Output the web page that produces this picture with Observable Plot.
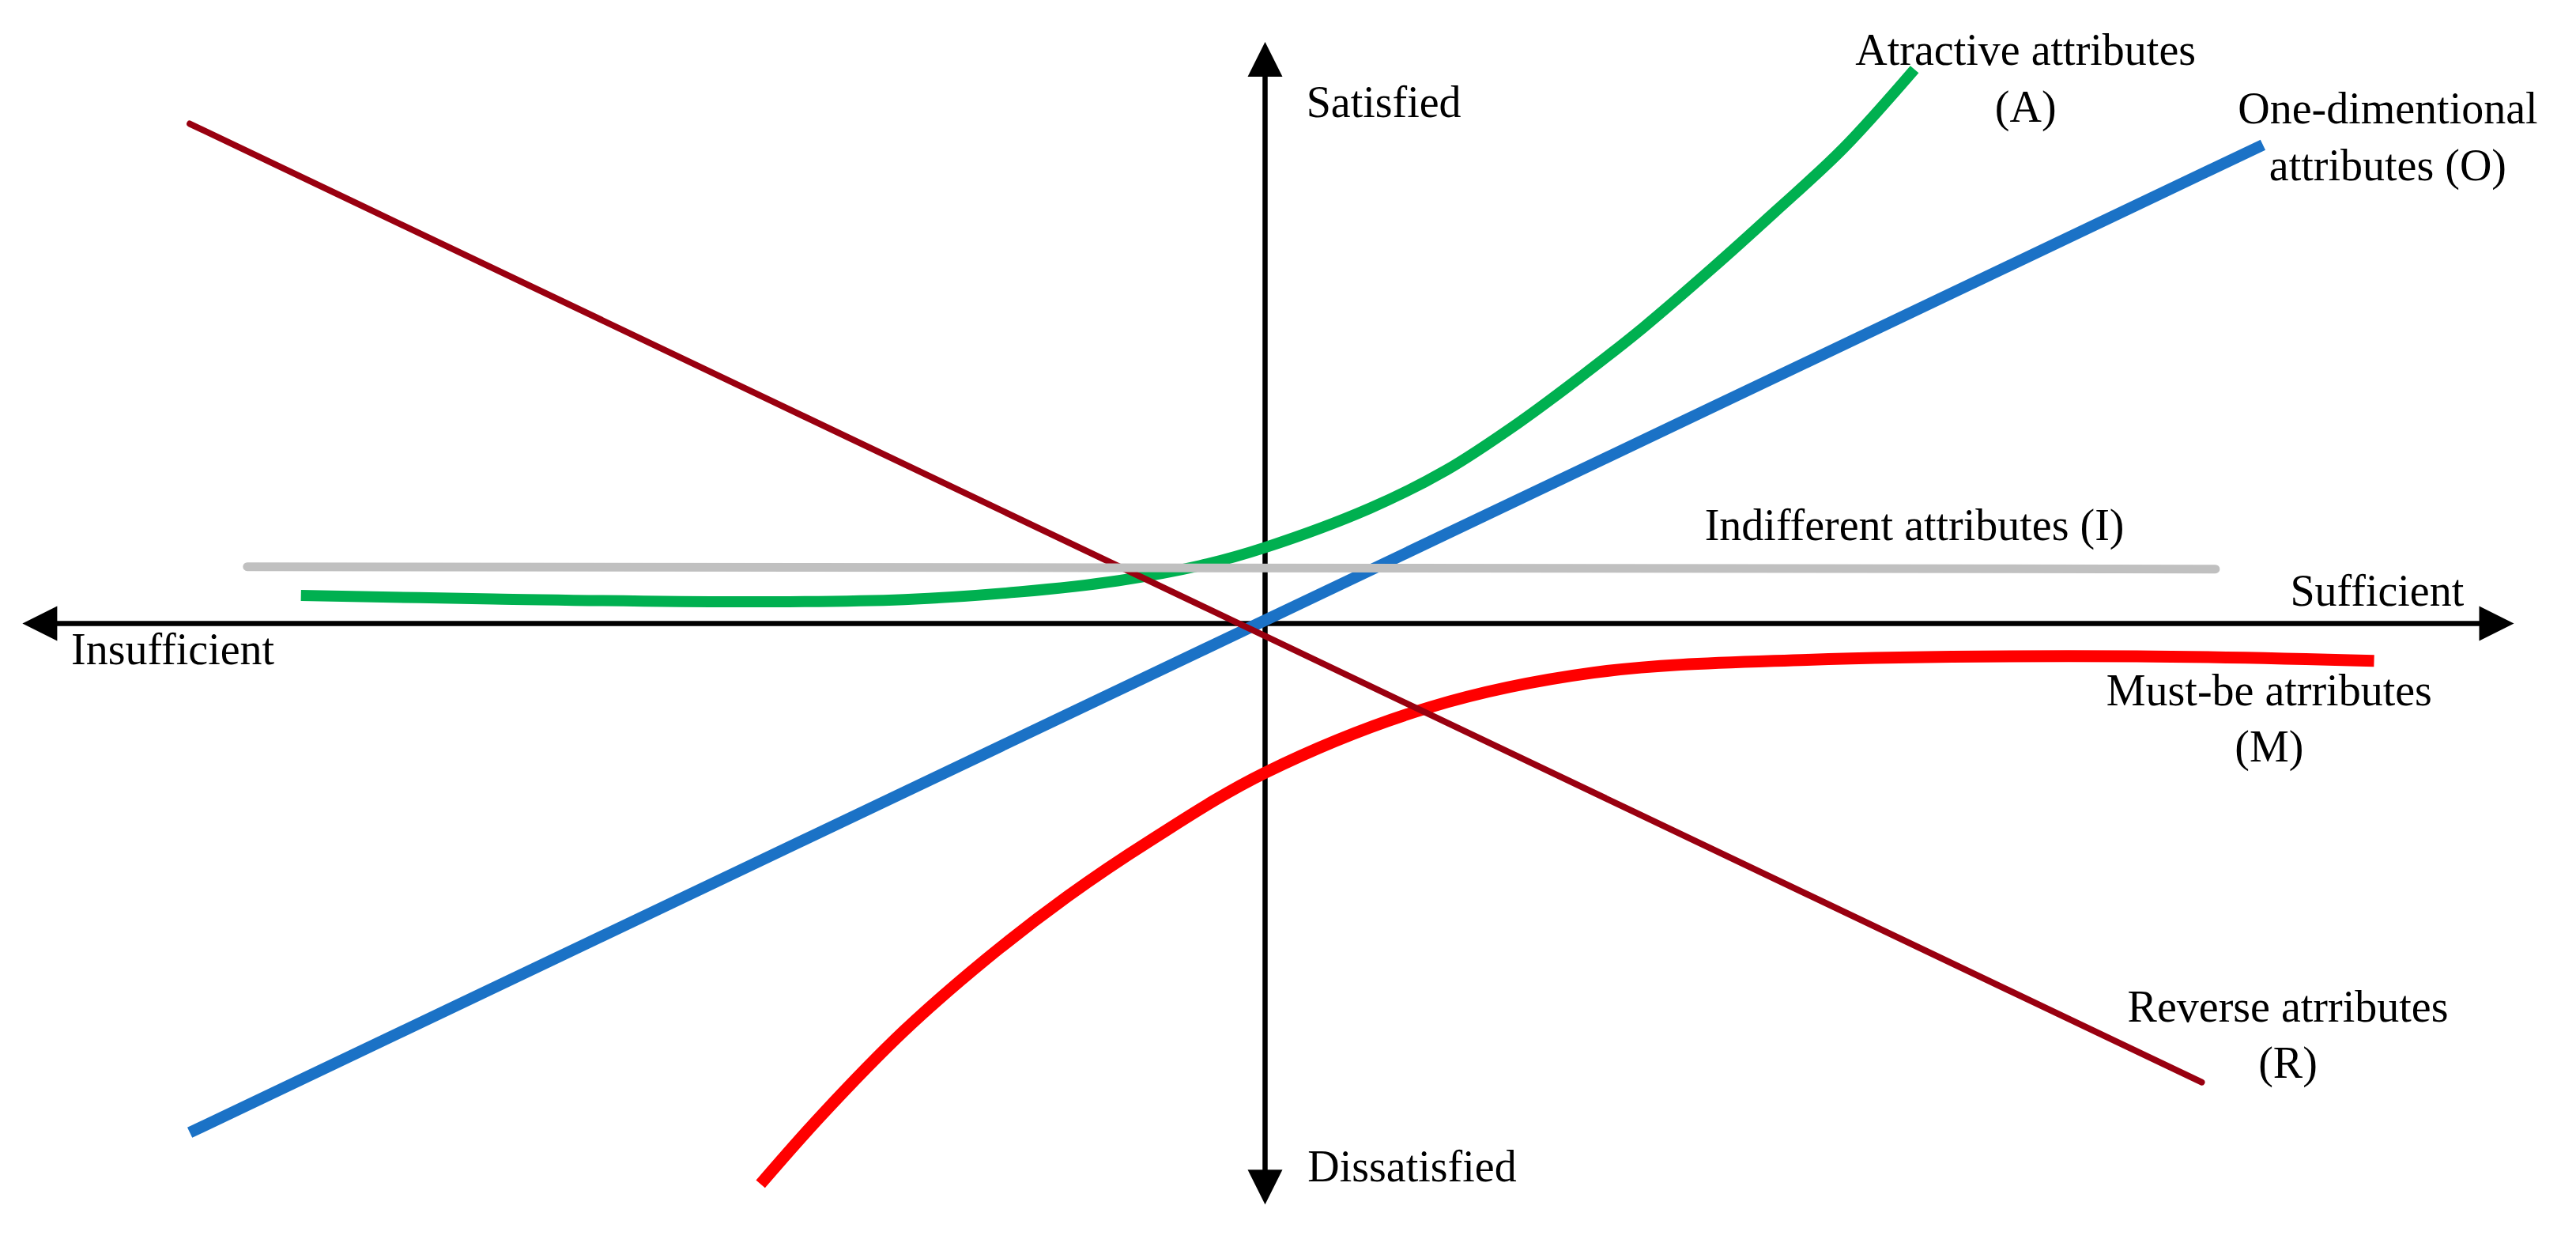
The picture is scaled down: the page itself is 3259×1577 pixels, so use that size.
<!DOCTYPE html>
<html><head><meta charset="utf-8">
<script src="https://cdn.jsdelivr.net/npm/d3@7"></script>
<script src="https://cdn.jsdelivr.net/npm/@observablehq/plot@0.6"></script>
<style>
html,body{margin:0;padding:0;background:#fff;}
</style></head><body><div id="chart"></div>
<script>
// ---- Kano model curves (x: insufficient→sufficient, y: dissatisfied→satisfied) ----
const reverseX = [-86.1, 75.0];
const reverseY = [85.4, -78.4];
const oneDimX = [-86.1, 79.9];
const oneDimY = [-87.0, 81.8];
const indiffX = [-81.5, 76.1];
const indiffY = [9.7, 9.3];
const attractX = [-77.2, -61.8, -42.1, -28.9, -19.7, -11.8, -5.2, 0.0, 8.4, 14.5, 20.3, 25.3, 30.3, 35.8, 40.8, 46.3, 52.0];
const attractY = [4.8, 4.2, 3.7, 4.1, 5.4, 7.3, 9.9, 13.0, 19.7, 26.2, 34.3, 42.2, 50.6, 60.7, 70.3, 81.2, 94.7];
const mustX = [-40.4, -35.5, -28.9, -22.3, -15.8, -9.2, 0.0, 13.2, 26.3, 43.4, 69.8, 88.8];
const mustY = [-95.8, -84.0, -69.6, -57.3, -46.6, -37.1, -25.5, -14.3, -8.4, -6.2, -5.6, -6.4];

const curveLabels = ["Atractive attributes\n(A)", "One-dimentional\nattributes (O)", "Indifferent attributes (I)", "Must-be atrributes\n(M)", "Reverse atrributes\n(R)"];
const axisLabels = ["Satisfied", "Dissatisfied", "Insufficient", "Sufficient"];

const pts = (xs, ys) => xs.map((x, i) => ({x, y: ys[i]}));

// filled arrowhead symbol (tip at origin, pointing up)
const arrowHead = {
  draw(ctx) { ctx.moveTo(0, 0); ctx.lineTo(22, 44); ctx.lineTo(-22, 44); ctx.closePath(); }
};
const arrowTips = [
  {x: 100, y: 0, a: 90},
  {x: -99.5, y: 0, a: 270},
  {x: 0, y: 99.4, a: 0},
  {x: 0, y: -99.3, a: 180}
];

const labelPos = [
  {t: curveLabels[0], x: 60.9, y: 85.8},
  {t: curveLabels[1], x: 89.9, y: 75.8},
  {t: curveLabels[2], x: 52.0, y: 14.2},
  {t: curveLabels[3], x: 80.4, y: -23.6},
  {t: curveLabels[4], x: 81.9, y: -77.7}
];
const startLabels = [
  {t: axisLabels[0], x: 3.3, y: 86.5},
  {t: axisLabels[1], x: 3.4, y: -95.3},
  {t: axisLabels[2], x: -95.6, y: -7.0}
];
const endLabels = [
  {t: axisLabels[3], x: 96.0, y: 3.1}
];

const chart = Plot.plot({
  width: 3259, height: 1577, margin: 0,
  x: {domain: [-100, 100], range: [20, 3180], axis: null},
  y: {domain: [-100, 100], range: [1528, 48], axis: null},
  style: {fontFamily: "'Liberation Serif', 'Times New Roman', serif", background: "#fff", overflow: "visible"},
  marks: [
    Plot.ruleY([0], {x1: -98, x2: 98.5, stroke: "black", strokeWidth: 6.5}),
    Plot.ruleX([0], {y1: -96, y2: 96, stroke: "black", strokeWidth: 6.5}),
    Plot.dot(arrowTips, {x: "x", y: "y", rotate: "a", symbol: arrowHead, fill: "black", stroke: null, r: 10}),
    Plot.line(pts(oneDimX, oneDimY), {x: "x", y: "y", stroke: "#1b72c6", strokeWidth: 14.5, strokeLinecap: "butt"}),
    Plot.line(pts(attractX, attractY), {x: "x", y: "y", stroke: "#00b050", strokeWidth: 14, strokeLinecap: "butt", curve: "catmull-rom"}),
    Plot.line(pts(mustX, mustY), {x: "x", y: "y", stroke: "#ff0000", strokeWidth: 15, strokeLinecap: "butt", curve: "catmull-rom"}),
    Plot.line(pts(reverseX, reverseY), {x: "x", y: "y", stroke: "#990010", strokeWidth: 8, strokeLinecap: "round"}),
    Plot.line(pts(indiffX, indiffY), {x: "x", y: "y", stroke: "#c0c0c0", strokeWidth: 11, strokeLinecap: "round"}),
    Plot.text(labelPos, {x: "x", y: "y", text: "t", fontSize: 56, fill: "black", textAnchor: "middle", lineAnchor: "bottom", lineHeight: 1.27}),
    Plot.text(startLabels, {x: "x", y: "y", text: "t", fontSize: 56, fill: "black", textAnchor: "start", lineAnchor: "bottom"}),
    Plot.text(endLabels, {x: "x", y: "y", text: "t", fontSize: 56, fill: "black", textAnchor: "end", lineAnchor: "bottom"})
  ]
});
document.getElementById("chart").append(chart);
</script>
</body></html>
